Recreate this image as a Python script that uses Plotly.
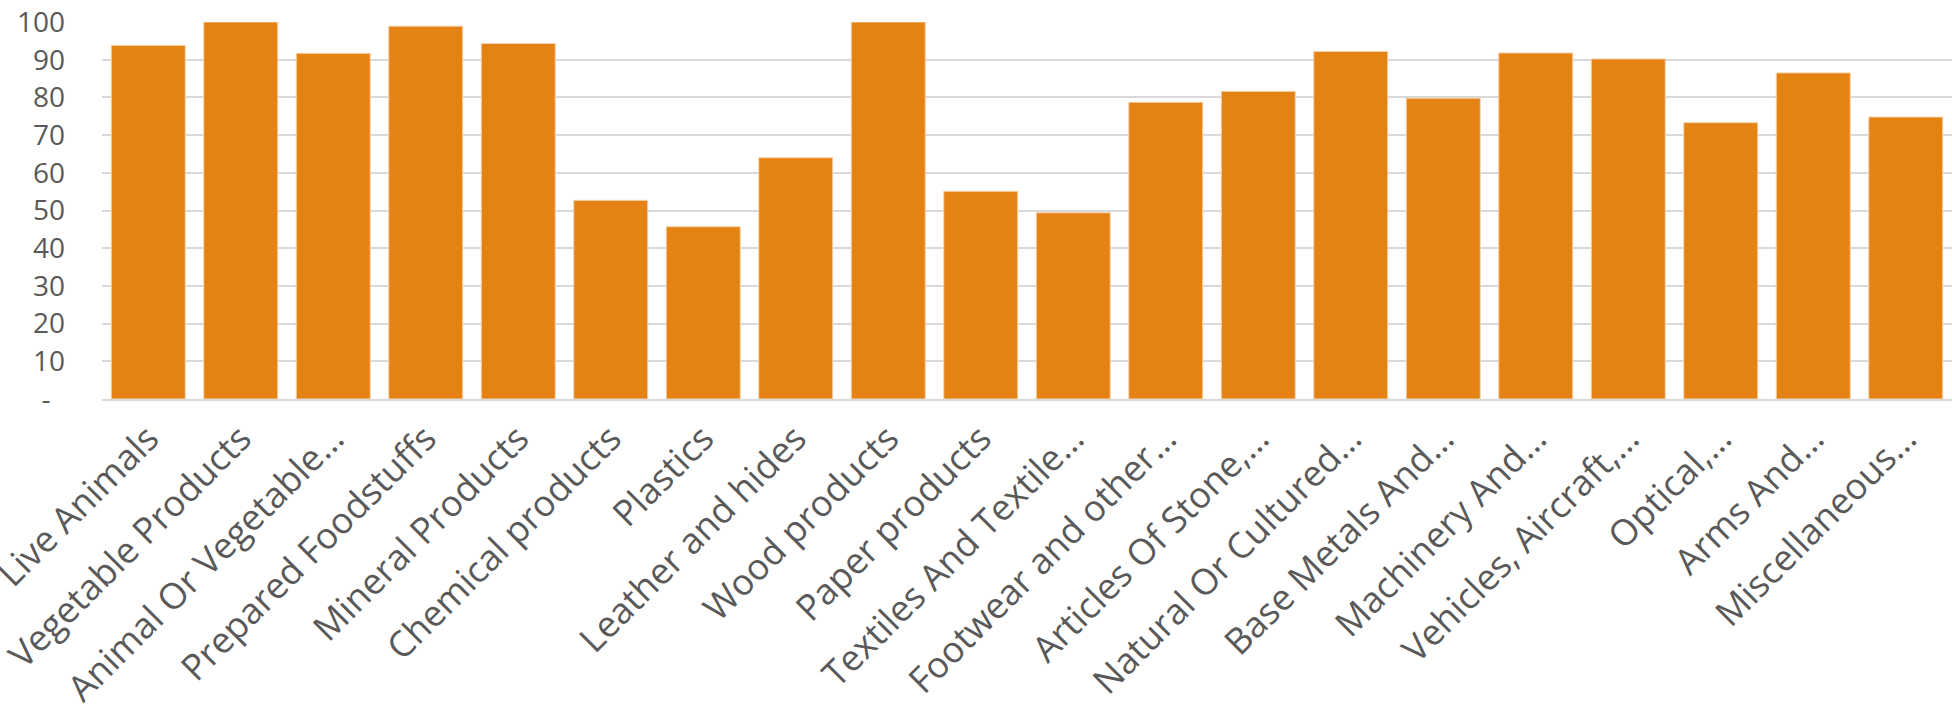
import plotly.graph_objects as go

# Trade categories and their index values
categories = [
    "Live Animals", "Vegetable Products", "Animal Or Vegetable…",
    "Prepared Foodstuffs", "Mineral Products", "Chemical products",
    "Plastics", "Leather and hides", "Wood products", "Paper products",
    "Textiles And Textile…", "Footwear and other…", "Articles Of Stone,…",
    "Natural Or Cultured…", "Base Metals And…", "Machinery And…",
    "Vehicles, Aircraft,…", "Optical,…", "Arms And…", "Miscellaneous…",
]
values = [
    93.8, 100.0, 91.7, 98.9, 94.3, 52.7, 45.7, 64.0, 100.0, 55.1,
    49.4, 78.7, 81.6, 92.2, 79.8, 91.8, 90.2, 73.3, 86.5, 74.8,
]
y_tick_values = [0, 10, 20, 30, 40, 50, 60, 70, 80, 90, 100]
y_tick_labels = ["-\u00a0\u00a0", "10", "20", "30", "40", "50", "60", "70", "80", "90", "100"]

BAR_COLOR = "#E48213"
TEXT_COLOR = "#595959"
GRID_COLOR = "#D9D9D9"
FONT = "Open Sans"

fig = go.Figure(
    go.Bar(
        x=categories,
        y=values,
        marker=dict(color=BAR_COLOR, line=dict(color="#F6D3AE", width=1)),
    )
)

fig.update_layout(
    width=1952,
    height=707,
    margin=dict(l=102, r=0, t=22, b=308, autoexpand=False),
    paper_bgcolor="white",
    plot_bgcolor="white",
    bargap=0.2,
    showlegend=False,
    font=dict(family=FONT, color=TEXT_COLOR, size=28),
)

fig.update_xaxes(
    tickangle=-45,
    tickfont=dict(family=FONT, size=36, color=TEXT_COLOR),
    showgrid=False,
    showline=True,
    linecolor=GRID_COLOR,
    linewidth=2,
    ticks="",
    ticklabelstandoff=2,
    automargin=False,
)

fig.update_yaxes(
    range=[0, 100],
    tickvals=y_tick_values,
    ticktext=y_tick_labels,
    tickfont=dict(family=FONT, size=28, color=TEXT_COLOR),
    showgrid=True,
    gridcolor=GRID_COLOR,
    gridwidth=2,
    zeroline=False,
    showline=False,
    ticks="",
    ticklabelstandoff=36,
    automargin=False,
)

fig.write_html("out.html")
